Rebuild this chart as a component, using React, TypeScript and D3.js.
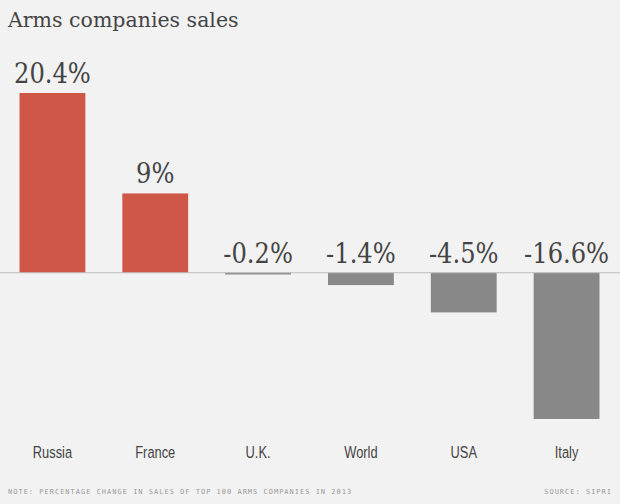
import React from "react";
import * as d3 from "d3";

const countries = ["Russia", "France", "U.K.", "World", "USA", "Italy"];
const changes = [20.4, 9, -0.2, -1.4, -4.5, -16.6];
const valueLabels = ["20.4%", "9%", "-0.2%", "-1.4%", "-4.5%", "-16.6%"];

const W = 620;
const H = 504;

const App: React.FC = () => {
  const x = d3
    .scaleBand<string>()
    .domain(countries)
    .range([1, 618])
    .paddingInner(0.36)
    .paddingOuter(0.18);

  const y = d3.scaleLinear().domain([-16.6, 20.4]).range([419, 93]);
  const zero = y(0);

  return (
    <svg
      width={W}
      height={H}
      style={{ position: "absolute", left: 0, top: 0, background: "#f2f2f2" }}
    >
      <rect width={W} height={H} fill="#f2f2f2" />
      <text
        x={8}
        y={27}
        fontFamily="'DejaVu Serif', Georgia, serif"
        fontSize={20.5}
        fill="#444"
      >
        Arms companies sales
      </text>

      {countries.map((c, i) => {
        const v = changes[i];
        const bx = x(c) || 0;
        const cx = bx + x.bandwidth() / 2;
        const top = v >= 0 ? y(v) : zero;
        const h = Math.abs(y(v) - zero);
        const labelY = v >= 0 ? y(v) - 10 : zero - 10;
        return (
          <g key={c}>
            <rect
              x={bx}
              y={top}
              width={x.bandwidth()}
              height={h}
              fill={v >= 0 ? "#cf5748" : "#888888"}
            />
            <text
              transform={`translate(${cx},${labelY}) scale(0.88,1)`}
              textAnchor="middle"
              fontFamily="'DejaVu Serif', Georgia, serif"
              fontSize={27.5}
              fill="#444"
            >
              {valueLabels[i]}
            </text>
            <text
              transform={`translate(${cx},458) scale(0.78,1)`}
              textAnchor="middle"
              fontFamily="'Liberation Sans', Arial, sans-serif"
              fontSize={16.5}
              fill="#444"
            >
              {c}
            </text>
          </g>
        );
      })}

      <line x1={0} x2={W} y1={zero} y2={zero} stroke="#bbb" strokeWidth={1} />

      <text
        x={8}
        y={494}
        fontFamily="'DejaVu Sans Mono', monospace"
        fontSize={7}
        letterSpacing={1}
        fill="#999"
      >
        NOTE: PERCENTAGE CHANGE IN SALES OF TOP 100 ARMS COMPANIES IN 2013
      </text>
      <text
        x={612}
        y={494}
        textAnchor="end"
        fontFamily="'DejaVu Sans Mono', monospace"
        fontSize={7}
        letterSpacing={1}
        fill="#999"
      >
        SOURCE: SIPRI
      </text>
    </svg>
  );
};

export default App;
